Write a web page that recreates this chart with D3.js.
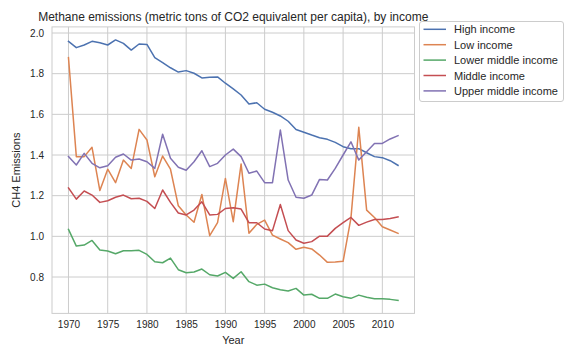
<!DOCTYPE html>
<html><head><meta charset="utf-8">
<script src="https://cdn.jsdelivr.net/npm/d3@7"></script>
<style>body{margin:0;background:#fff}svg{display:block}text{font-family:Arial,"Liberation Sans",sans-serif;fill:#262626}</style>
</head><body><svg id="c" width="576" height="360"></svg>
<script>
const years = d3.range(1970, 2013);
const seriesNames = ["High income","Low income","Lower middle income","Middle income","Upper middle income"];
const colors = ["#4c72b0","#dd8452","#55a868","#c44e52","#8172b3"];
const highIncome = [1.959,1.928,1.941,1.959,1.952,1.941,1.966,1.949,1.916,1.946,1.944,1.879,1.854,1.829,1.808,1.815,1.802,1.779,1.782,1.784,1.753,1.725,1.695,1.651,1.657,1.625,1.610,1.592,1.566,1.525,1.512,1.498,1.485,1.477,1.462,1.441,1.431,1.431,1.411,1.392,1.387,1.372,1.349];
const lowIncome = [1.879,1.392,1.392,1.438,1.225,1.330,1.264,1.375,1.334,1.526,1.474,1.293,1.395,1.330,1.150,1.105,1.069,1.206,1.003,1.067,1.285,1.072,1.356,1.015,1.059,1.080,1.006,0.987,0.969,0.936,0.946,0.938,0.908,0.872,0.874,0.877,1.090,1.536,1.129,1.093,1.047,1.031,1.015];
const lowerMiddle = [1.034,0.952,0.957,0.980,0.933,0.928,0.914,0.929,0.929,0.931,0.911,0.875,0.870,0.893,0.836,0.821,0.825,0.839,0.811,0.805,0.823,0.793,0.826,0.777,0.760,0.765,0.747,0.737,0.731,0.744,0.711,0.715,0.695,0.695,0.716,0.703,0.695,0.711,0.700,0.693,0.693,0.690,0.685];
const middleIncome = [1.238,1.183,1.223,1.203,1.167,1.175,1.192,1.203,1.185,1.187,1.172,1.137,1.228,1.167,1.115,1.105,1.129,1.170,1.105,1.108,1.137,1.141,1.134,1.067,1.067,1.036,1.028,1.157,1.028,0.982,0.966,0.974,1.001,1.001,1.039,1.067,1.093,1.054,1.070,1.083,1.083,1.088,1.096];
const upperMiddle = [1.392,1.351,1.408,1.359,1.337,1.347,1.389,1.405,1.375,1.380,1.367,1.334,1.502,1.384,1.340,1.325,1.367,1.421,1.343,1.359,1.400,1.429,1.392,1.310,1.321,1.264,1.264,1.523,1.277,1.192,1.187,1.203,1.280,1.277,1.334,1.400,1.465,1.375,1.416,1.457,1.457,1.479,1.495];
const allSeries = [highIncome, lowIncome, lowerMiddle, middleIncome, upperMiddle];
const xTicks = [1970,1975,1980,1985,1990,1995,2000,2005,2010];
const yTicks = [0.8,1.0,1.2,1.4,1.6,1.8,2.0];

const svg = d3.select("#c");
const L = 52, R = 414.5, T = 26.9, B = 313.4;
const x = d3.scaleLinear().domain([1970 - 2.1, 2012 + 2.1]).range([L, R]);
const y = d3.scaleLinear().domain([0.621, 2.030]).range([B, T]);
const grid = "#cccccc";

const g = svg.append("g");
g.selectAll(".gx").data(xTicks).enter().append("line")
  .attr("x1", d => x(d)).attr("x2", d => x(d)).attr("y1", T).attr("y2", B)
  .attr("stroke", grid).attr("stroke-width", 1);
g.selectAll(".gy").data(yTicks).enter().append("line")
  .attr("y1", d => y(d)).attr("y2", d => y(d)).attr("x1", L).attr("x2", R)
  .attr("stroke", grid).attr("stroke-width", 1);
g.append("rect").attr("x", L).attr("y", T).attr("width", R - L).attr("height", B - T)
  .attr("fill", "none").attr("stroke", grid).attr("stroke-width", 1);

const xAxis = d3.axisBottom(x).tickValues(xTicks).tickFormat(d3.format("d")).tickSize(0).tickPadding(8);
const yAxis = d3.axisLeft(y).tickValues(yTicks).tickFormat(d3.format(".1f")).tickSize(0).tickPadding(8);
const gx = svg.append("g").attr("transform", `translate(0,${B})`).call(xAxis);
const gy = svg.append("g").attr("transform", `translate(${L},0)`).call(yAxis);
[gx, gy].forEach(a => {
  a.select(".domain").remove();
  a.selectAll("text").style("font-size", "10px").attr("fill", "#262626");
});

const line = d3.line().x((d, i) => x(years[i])).y(d => y(d));
allSeries.forEach((s, k) => {
  svg.append("path").datum(s).attr("d", line).attr("fill", "none")
    .attr("stroke", colors[k]).attr("stroke-width", 1.5).attr("stroke-linejoin", "round").attr("stroke-linecap", "square");
});

svg.append("text").attr("x", (L + R) / 2).attr("y", 344).attr("text-anchor", "middle").style("font-size", "11px").text("Year");
svg.append("text").attr("transform", `translate(20,${(T + B) / 2}) rotate(-90)`).attr("text-anchor", "middle").style("font-size", "11px").text("CH4 Emissions");
svg.append("text").attr("x", (L + R) / 2).attr("y", 21).attr("text-anchor", "middle").style("font-size", "12px").text("Methane emissions (metric tons of CO2 equivalent per capita), by income");

const lg = svg.append("g");
lg.append("rect").attr("x", 419.5).attr("y", 21.5).attr("width", 144).attr("height", 80).attr("rx", 2.5)
  .attr("fill", "#fff").attr("fill-opacity", 0.8).attr("stroke", grid);
seriesNames.forEach((n, k) => {
  const yy = 29.3 + k * 15.4;
  lg.append("line").attr("x1", 423.5).attr("x2", 446).attr("y1", yy).attr("y2", yy).attr("stroke", colors[k]).attr("stroke-width", 1.5);
  lg.append("text").attr("x", 454).attr("y", yy + 4).style("font-size", "11px").text(n);
});
</script></body></html>
